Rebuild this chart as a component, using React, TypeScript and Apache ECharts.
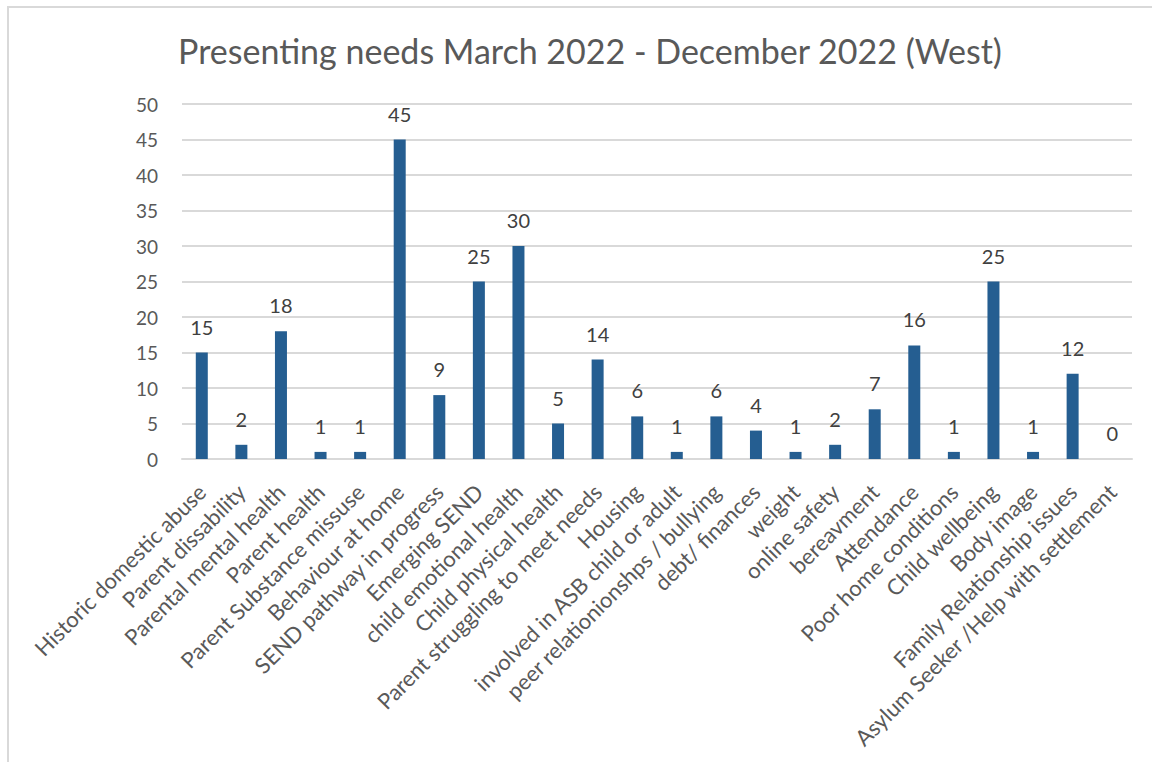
import React, { useEffect, useRef } from "react";
import * as echarts from "echarts";

const categories = [
  "Historic domestic abuse",
  "Parent dissability",
  "Parental mental health",
  "Parent health",
  "Parent Substance missuse",
  "Behaviour at home",
  "SEND pathway in progress",
  "Emerging SEND",
  "child emotional health",
  "Child physical health",
  "Parent struggling to meet needs",
  "Housing",
  "involved in ASB child or adult",
  "peer relationionshps / bullying",
  "debt/ finances",
  "weight",
  "online safety",
  "bereavment",
  "Attendance",
  "Poor home conditions",
  "Child wellbeing",
  "Body image",
  "Family Relationship issues",
  "Asylum Seeker /Help with settlement",
];

const values = [15, 2, 18, 1, 1, 45, 9, 25, 30, 5, 14, 6, 1, 6, 4, 1, 2, 7, 16, 1, 25, 1, 12, 0];

const titleText = "Presenting needs March 2022 - December 2022 (West)";

export default function App() {
  const ref = useRef<HTMLDivElement>(null);
  useEffect(() => {
    if (!ref.current) return;
    const chart = echarts.init(ref.current, null, { renderer: "svg" });
    const font = "Lato, 'Open Sans', sans-serif";
    chart.setOption({
      animation: false,
      backgroundColor: "#ffffff",
      textStyle: { fontFamily: font },
      title: {
        text: titleText,
        left: 585,
        top: 28,
        textAlign: "center",
        textStyle: { fontFamily: font, fontSize: 34, fontWeight: "normal", color: "#595959" },
      },
      graphic: [
        {
          type: "rect",
          shape: { x: 8, y: 7, width: 1200, height: 800 },
          style: { fill: "none", stroke: "#d9d9d9", lineWidth: 2 },
          silent: true,
        },
      ],
      grid: { left: 182, right: 20, top: 104, bottom: 303 },
      xAxis: {
        type: "category",
        data: categories,
        axisLine: { lineStyle: { color: "#d9d9d9", width: 2 } },
        axisTick: { show: false },
        axisLabel: {
          interval: 0,
          rotate: 45,
          margin: 29,
          fontFamily: font,
          fontSize: 22,
          color: "#595959",
        },
      },
      yAxis: {
        type: "value",
        min: 0,
        max: 50,
        interval: 5,
        axisLine: { show: false },
        axisTick: { show: false },
        splitLine: { lineStyle: { color: "#d9d9d9", width: 2 } },
        axisLabel: { fontFamily: font, fontSize: 19, color: "#595959", margin: 24 },
      },
      series: [
        {
          type: "bar",
          data: values,
          barWidth: 12,
          itemStyle: { color: "#255e91" },
          label: {
            show: true,
            position: "top",
            distance: 16,
            fontFamily: font,
            fontSize: 20,
            color: "#404040",
          },
        },
      ],
    });
    return () => chart.dispose();
  }, []);
  return (
    <div
      ref={ref}
      style={{ position: "fixed", left: 0, top: 0, width: 1152, height: 762 }}
    />
  );
}
